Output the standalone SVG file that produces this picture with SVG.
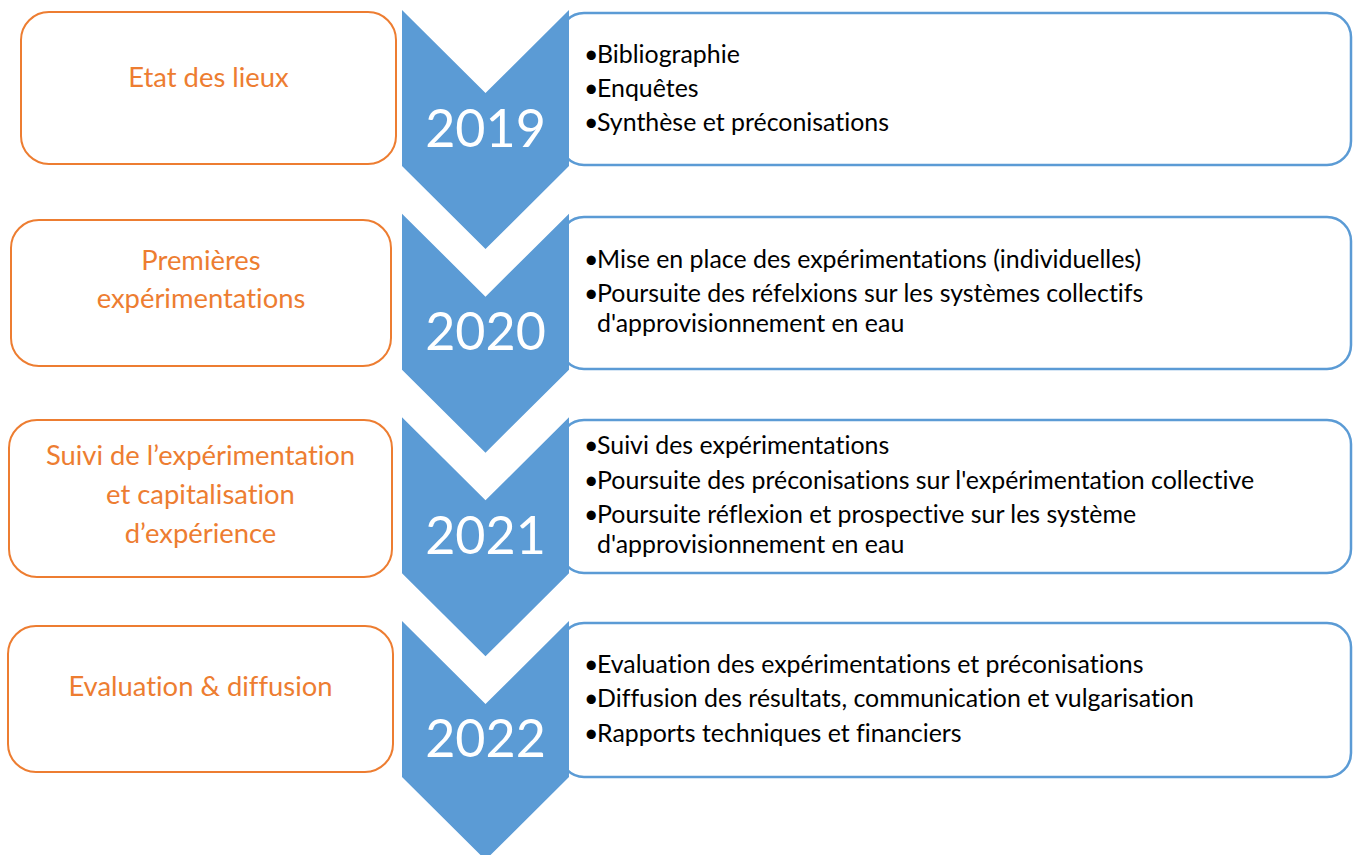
<svg xmlns="http://www.w3.org/2000/svg" width="1354" height="855" viewBox="0 0 1354 855">
<style>
.obox{fill:#fff;stroke:#ed7d31;stroke-width:2}
.bbox{fill:#fff;stroke:#5b9bd5;stroke-width:2.5}
.chev{fill:#5b9bd5}
text{font-variant-ligatures:none}
.otxt{font-family:Lato,"Open Sans",sans-serif;font-size:27.4px;fill:#ed7d31;text-anchor:middle}
.btxt{font-family:Lato,"Open Sans",sans-serif;font-size:24.9px;fill:#000}
.year{font-family:Lato,"Open Sans",sans-serif;font-size:52px;fill:#fff;text-anchor:middle}
</style>
<rect width="1354" height="855" fill="#fff"/>
<g id="phase1">
<rect class="obox" x="21" y="12" width="375" height="152" rx="28"/>
<text class="otxt" x="208.5" y="87">Etat des lieux</text>
</g>
<g id="phase2">
<rect class="obox" x="11" y="220" width="380" height="146" rx="28"/>
<text class="otxt" x="201" y="270">Premières</text>
<text class="otxt" x="201" y="308">expérimentations</text>
</g>
<g id="phase3">
<rect class="obox" x="9" y="420" width="383" height="157" rx="28"/>
<text class="otxt" x="200.5" y="465">Suivi de l’expérimentation</text>
<text class="otxt" x="200.5" y="504">et capitalisation</text>
<text class="otxt" x="200.5" y="543">d’expérience</text>
</g>
<g id="phase4">
<rect class="obox" x="8" y="626" width="385" height="146" rx="28"/>
<text class="otxt" x="200.5" y="696">Evaluation &amp; diffusion</text>
</g>
<g id="detail2019">
<rect class="bbox" x="560" y="13" width="791" height="152" rx="24"/>
<text class="btxt" y="63"><tspan x="584">•</tspan><tspan x="597">Bibliographie</tspan></text>
<text class="btxt" y="97"><tspan x="584">•</tspan><tspan x="597">Enquêtes</tspan></text>
<text class="btxt" y="131"><tspan x="584">•</tspan><tspan x="597">Synthèse et préconisations</tspan></text>
</g>
<g id="detail2020">
<rect class="bbox" x="560" y="217" width="791" height="152" rx="24"/>
<text class="btxt" y="268"><tspan x="584">•</tspan><tspan x="597">Mise en place des expérimentations (individuelles)</tspan></text>
<text class="btxt" y="302"><tspan x="584">•</tspan><tspan x="597">Poursuite des réfelxions sur les systèmes collectifs</tspan></text>
<text class="btxt" x="597" y="332">d'approvisionnement en eau</text>
</g>
<g id="detail2021">
<rect class="bbox" x="560" y="420" width="791" height="153" rx="24"/>
<text class="btxt" y="454"><tspan x="584">•</tspan><tspan x="597">Suivi des expérimentations</tspan></text>
<text class="btxt" y="489"><tspan x="584">•</tspan><tspan x="597">Poursuite des préconisations sur l'expérimentation collective</tspan></text>
<text class="btxt" y="523"><tspan x="584">•</tspan><tspan x="597">Poursuite réflexion et prospective sur les système</tspan></text>
<text class="btxt" x="597" y="553">d'approvisionnement en eau</text>
</g>
<g id="detail2022">
<rect class="bbox" x="560" y="623" width="791" height="154" rx="24"/>
<text class="btxt" y="673"><tspan x="584">•</tspan><tspan x="597">Evaluation des expérimentations et préconisations</tspan></text>
<text class="btxt" y="707"><tspan x="584">•</tspan><tspan x="597">Diffusion des résultats, communication et vulgarisation</tspan></text>
<text class="btxt" y="742"><tspan x="584">•</tspan><tspan x="597">Rapports techniques et financiers</tspan></text>
</g>
<g id="y2019">
<path class="chev" d="M402,10 L569,10 L569,166 L485.5,249 L402,166 Z M402,10 L485.5,93 L569,10 Z" fill-rule="evenodd"/>
<text class="year" x="485.5" y="147">2019</text>
</g>
<g id="y2020">
<path class="chev" d="M402,213.7 L569,213.7 L569,369.7 L485.5,452.7 L402,369.7 Z M402,213.7 L485.5,296.7 L569,213.7 Z" fill-rule="evenodd"/>
<text class="year" x="485.5" y="350">2020</text>
</g>
<g id="y2021">
<path class="chev" d="M402,417.3 L569,417.3 L569,573.3 L485.5,656.3 L402,573.3 Z M402,417.3 L485.5,500.3 L569,417.3 Z" fill-rule="evenodd"/>
<text class="year" x="485.5" y="554">2021</text>
</g>
<g id="y2022">
<path class="chev" d="M402,621 L569,621 L569,777 L485.5,860 L402,777 Z M402,621 L485.5,704 L569,621 Z" fill-rule="evenodd"/>
<text class="year" x="485.5" y="757">2022</text>
</g>
<g id="connectors"></g>
</svg>
